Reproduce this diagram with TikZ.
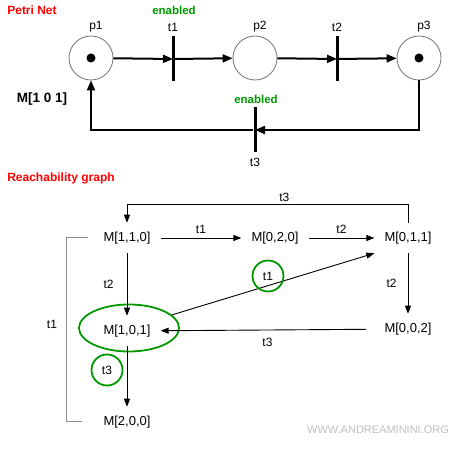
\documentclass[tikz,border=0pt]{standalone}
\usepackage{fontspec}
\setmainfont{Liberation Sans}
\usepackage{xcolor}
\usepackage{tikz}
\usetikzlibrary{arrows.meta,shapes.geometric}
\definecolor{okgreen}{RGB}{0,153,0}
\definecolor{titlered}{RGB}{255,0,0}

\begin{document}
\begin{tikzpicture}[x=1pt,y=-1pt]
      \tikzstyle{place} = [circle, minimum size=44pt, inner sep=0pt, draw=black!55, line width=0.8pt]
      \tikzstyle{token} = [circle, fill=black, minimum size=9pt, inner sep=0pt]
      \tikzstyle{transition} = [rectangle, fill=black, minimum width=3pt, minimum height=45pt, inner sep=0pt]
      \tikzstyle{arc} = [line width=2pt, -{Triangle[length=10pt,width=8pt]}]
      \tikzstyle{lbl} = [font=\fontsize{12}{14}\selectfont, inner sep=1pt]
      \tikzstyle{title} = [font=\bfseries\fontsize{12}{14}\selectfont, text=titlered]
      \tikzstyle{enabled} = [font=\bfseries\fontsize{11.5}{14}\selectfont, text=okgreen]
      \tikzstyle{marking} = [font=\fontsize{13}{15}\selectfont, inner xsep=10pt, inner ysep=9pt]
      \tikzstyle{edge} = [line width=0.9pt, -{Triangle[length=8pt,width=6pt]}]
      \tikzstyle{fired} = [draw=okgreen, line width=1.8pt]
      \tikzstyle{bracket} = [draw=black!45, line width=1pt]

      \useasboundingbox (0,0) rectangle (464,454);

      % Petri net
      \node (title1) [title] at (32,10) {Petri Net};
      \node (p1) [place] at (91,58) {};
      \node (p2) [place] at (255,58) {};
      \node (p3) [place] at (419,58) {};
      \node (tok1) [token] at (p1) {};
      \node (tok3) [token] at (p3) {};
      \node (p1lbl) [lbl] at (96,27) {p1};
      \node (p2lbl) [lbl] at (260,27) {p2};
      \node (p3lbl) [lbl] at (424,27) {p3};
      \node (t1) [transition] at (173,59) {};
      \node (t2) [transition] at (337,59) {};
      \node (t3) [transition] at (255,130) {};
      \node (t1lbl) [lbl] at (173,27) {t1};
      \node (t2lbl) [lbl] at (337,27) {t2};
      \node (t3lbl) [lbl] at (255,162) {t3};
      \node (en1) [enabled] at (174,10) {enabled};
      \node (en3) [enabled] at (256,99) {enabled};
      \node (mark0) [font=\bfseries\fontsize{13.5}{15}\selectfont] at (42,99) {M[1 0 1]};

      \draw [arc] (p1) -- (t1.center);
      \draw [arc] (t1) -- (p2);
      \draw [arc] (p2) -- (t2.center);
      \draw [arc] (t2) -- (p3);
      \draw [arc] (p3) |- (t3.center);
      \draw [arc] (t3) -| (p1);

      % Reachability graph
      \node (title2) [title] at (61,178) {Reachability graph};
      \node (m110) [marking] at (127,238) {M[1,1,0]};
      \node (m020) [marking] at (275,238) {M[0,2,0]};
      \node (m011) [marking] at (408,238) {M[0,1,1]};
      \node (m101) [marking] at (127,331) {M[1,0,1]};
      \node (m002) [marking] at (408,329) {M[0,0,2]};
      \node (m200) [marking] at (127,422) {M[2,0,0]};
      \node (ring101) [ellipse, fired, minimum width=100pt, minimum height=47pt] at (129,328) {};

      \draw [edge] (m110) -- node[lbl, above=3pt] {t1} (m020);
      \draw [edge] (m020) -- node[lbl, above=3pt] {t2} (m011);
      \draw [edge] (m110) -- node[lbl, left=12pt] {t2} (m101);
      \draw [edge] (m011) -- node[lbl, left=10pt] {t2} (m002);
      \draw [edge, shorten <=8pt] (m002) -- node[lbl, below=7pt] {t3} (m101);
      \draw [edge] (m101) -- (m200);
      \draw [edge] (ring101) -- (m011.south west);
      \draw [edge] (m011.north) -- ++(0,-18) -| node[lbl, pos=0.22, above=2pt] {t3} (m110.north);
      \draw [bracket, shorten <=5pt, shorten >=11pt] (m110.west) -- ++(-27,0) |- (m200.west);

      \node (t1side) [lbl] at (52,324) {t1};
      \node (ring1) [circle, fired, minimum size=31pt, lbl] at (268,276) {t1};
      \node (ring3) [circle, fired, minimum size=31pt, lbl] at (107,370) {t3};
      \node (site) [font=\fontsize{11}{13}\selectfont, text=black!25] at (378,430) {WWW.ANDREAMININI.ORG};
    \end{tikzpicture}
\end{document}
